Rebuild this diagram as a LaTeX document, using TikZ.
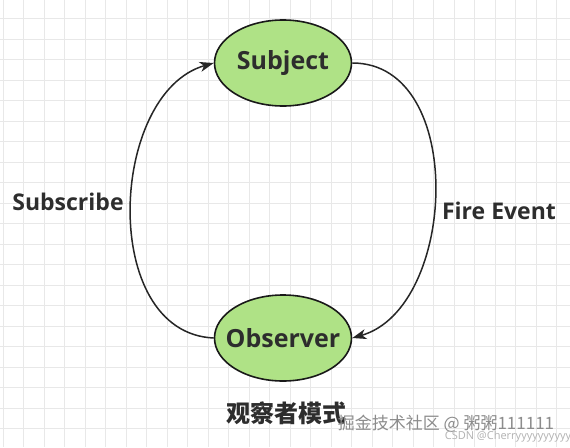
\documentclass[tikz,border=0pt]{standalone}
\usepackage{fontspec}
\setmainfont{Open Sans}
\newfontfamily\cjk{Noto Sans CJK SC}
\usetikzlibrary{shapes.geometric,arrows.meta}
\definecolor{nodegreen}{RGB}{175,226,134}
\definecolor{inkgray}{RGB}{45,45,45}
\tikzset{
  state/.style={ellipse,draw=black!90,line width=1.6pt,fill=nodegreen,minimum width=137pt,minimum height=86pt,inner sep=-20pt,font=\bfseries\fontsize{25}{28}\selectfont,text=inkgray},
  lbl/.style={font=\bfseries\fontsize{23}{26}\selectfont,text=inkgray},
  arr/.style={line width=1.5pt,draw=black!85,-{Stealth[length=14pt,width=10pt,inset=4pt]}}
}
\begin{document}
\begin{tikzpicture}[x=1pt,y=-1pt]
\useasboundingbox[fill=white] (0,0) rectangle (570,447);
\foreach \gx in {3,23.5,...,570} \draw[black!9,line width=1pt] (\gx,0) -- (\gx,447);
\foreach \gy in {-2,18.5,...,447} \draw[black!9,line width=1pt] (0,\gy) -- (570,\gy);
\node[state] (subj) at (283,63) {Subject};
\node[state] (obs) at (283,338) {Observer};
\draw[arr] (obs.west) .. controls +(-115,-5) and +(-105,30) .. (subj.west);
\draw[arr] (subj.east) .. controls +(115,0) and +(105,-30) .. (obs.east);
\node[lbl] (sub) at (68,202) {Subscribe};
\node[lbl] (fire) at (499,211) {Fire Event};
\node[font=\cjk\bfseries\fontsize{24}{26}\selectfont,text=inkgray] (title) at (286,413) {观察者模式};
\node[font=\cjk\fontsize{17}{19}\selectfont,text=black!45] (mark) at (446,424) {掘金技术社区 @ 粥粥111111};
\node[font=\fontsize{11}{12}\selectfont,text=black!30] (csdn) at (508,437) {CSDN @Cherryyyyyyyyyy};
\end{tikzpicture}
\end{document}
